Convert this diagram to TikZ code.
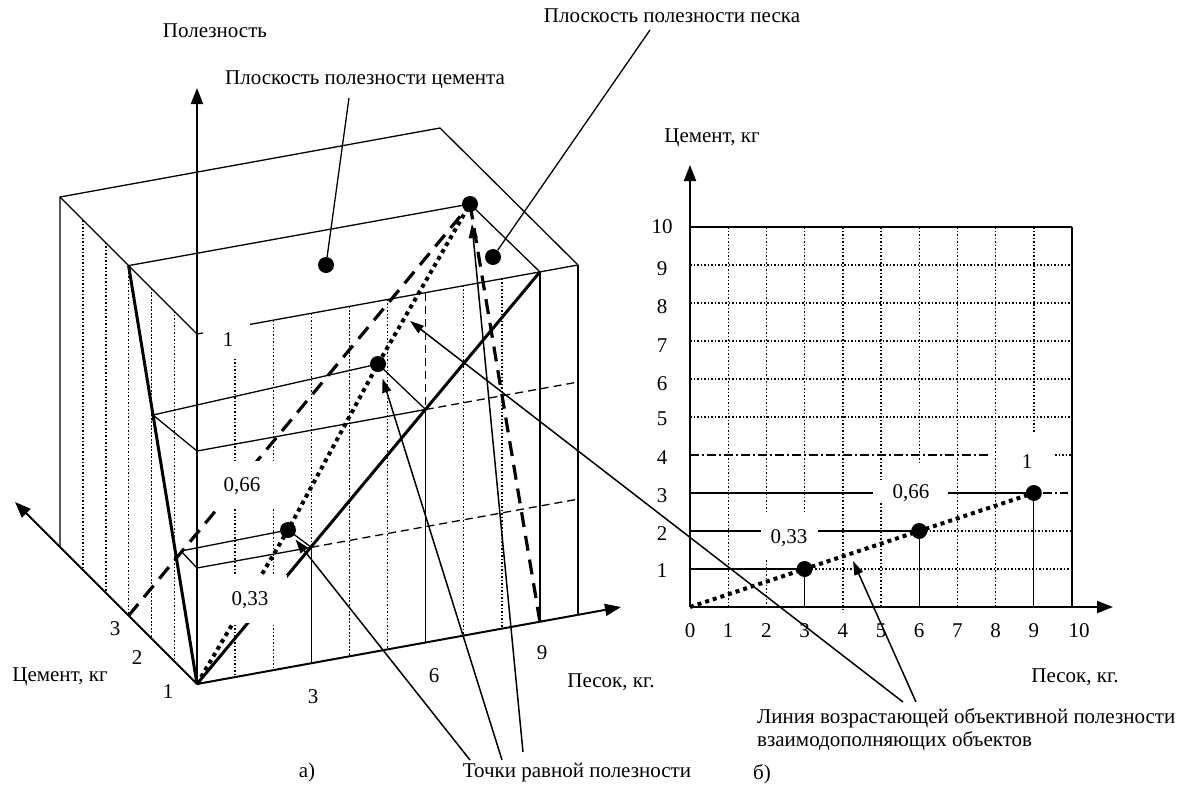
\documentclass[tikz,border=0pt]{standalone}
\usepackage{fontspec}
\setmainfont{Liberation Serif}
\usetikzlibrary{arrows.meta}
\begin{document}
\begin{tikzpicture}[x=1pt,y=-1pt,
  box/.style={line width=1.3pt},
  dotv/.style={line width=1.4pt, dash pattern=on 1.6pt off 1.9pt},
  dsh/.style={line width=1.3pt, dash pattern=on 8pt off 5pt},
  dashdot/.style={line width=1.3pt, dash pattern=on 9pt off 3pt on 2pt off 3pt},
  bold/.style={line width=3pt},
  bolddash/.style={line width=3.2pt, dash pattern=on 15pt off 9pt},
  bolddot/.style={line width=4pt, dash pattern=on 4pt off 4pt},
  axis/.style={line width=2pt, -{Triangle[length=16pt,width=12pt]}},
  ptr/.style={line width=1.5pt, -{Triangle[length=14pt,width=9pt]}},
  lbl/.style={font=\fontsize{21}{24}\selectfont, inner sep=0pt},
  dot/.style={circle, fill, inner sep=0pt, minimum size=16pt},
  mask/.style={fill=white, draw=none}
]
\useasboundingbox (0,0) rectangle (1192,790);

% ---------------- left diagram (a) ----------------
\coordinate (O) at (197,684);
\coordinate (Utip) at (197,88);
\coordinate (Ctip) at (15,502);
\coordinate (Stip) at (621,607);

% left face dotted verticals (cement 1..5)
\draw[dotv] (174.2,311.2) -- (174.2,661.2);
\draw[dotv] (151.4,288.4) -- (151.4,638.4);
\draw[dotv] (128.6,265.6) -- (128.6,615.6);
\draw[dotv] (105.8,242.8) -- (105.8,592.8);
\draw[dotv] (83,220) -- (83,570);

% front face dotted verticals
\draw[dotv] (235.1,327.1) -- (235.1,677.1);
\draw[dotv] (273.2,320.2) -- (273.2,670.2);
\draw[dotv] (311.3,313.3) -- (311.3,547.3);
\draw[box]  (311.3,547.3) -- (311.3,663.2);
\draw[dotv] (349.4,306.4) -- (349.4,656.3);
\draw[dotv] (387.5,299.5) -- (387.5,649.4);
\draw[dsh]  (425.6,292.6) -- (425.6,409.5);
\draw[box]  (425.6,409.5) -- (425.6,642.5);
\draw[dotv] (463.7,285.7) -- (463.7,635.6);
\draw[dotv] (501.8,278.8) -- (501.8,628.6);
\draw[box]  (539.9,271.9) -- (539.9,621.7);
\draw[box]  (578,265) -- (578,614.8);

% box outline
\draw[box] (60,547) -- (60,197) -- (440,128) -- (578,265);
\draw[box] (60,197) -- (197,334);
\draw[box] (197,334) -- (578,265);

% level 0.66
\draw[box] (153,415) -- (197,451) -- (425.6,409.5);
\draw[dsh] (425.6,409.5) -- (576,382.4);
\draw[box] (153,415) -- (378,364) -- (425.6,409.5);
% level 0.33
\draw[box] (181,551) -- (197,568) -- (311.3,547.3);
\draw[dsh] (311.3,547.3) -- (576,499.5);
\draw[box] (181,551) -- (288,530) -- (311.3,547.3);
% top level
\draw[box] (128.6,265.6) -- (470,204) -- (539.9,271.9);

% bold utility lines
\draw[bold] (O) -- (128.6,265.6);
\draw[bold] (O) -- (539.9,271.9);
\draw[bolddash] (128.6,615.6) -- (468,207);
\draw[bolddash] (539.9,621.7) -- (471,210);
\draw[bolddot] (O) -- (288,530) -- (378,364) -- (470,204);

% axes
\draw[axis] (O) -- (Utip);
\draw[axis] (O) -- (Ctip);
\draw[axis] (O) -- (Stip);

% label masks
\fill[mask] (203,318) rectangle (250,358);
\fill[mask] (205,461) rectangle (278,509);
\fill[mask] (230,575) rectangle (287,623);

\node[lbl] (l1) at (228,340) {1};
\node[lbl] (l066) at (242,486) {0,66};
\node[lbl] (l033) at (250,600) {0,33};

% dots
\node[dot] (d1) at (288,530) {};
\node[dot] (d2) at (378,364) {};
\node[dot] (d3) at (470,204) {};
\node[dot] (pcdot) at (326,265) {};
\node[dot] (psdot) at (493,257) {};

% texts
\node[lbl] (tU) at (215,31) {Полезность};
\node[lbl] (tPC) at (365,80) {Плоскость полезности цемента};
\node[lbl] (tPS) at (672,16) {Плоскость полезности песка};
\node[lbl] (tC) at (60,677) {Цемент, кг};
\node[lbl] (c1) at (168,692) {1};
\node[lbl] (c2) at (137,658) {2};
\node[lbl] (c3) at (115,629) {3};
\node[lbl] (s3) at (313,697) {3};
\node[lbl] (s6) at (434,676) {6};
\node[lbl] (s9) at (542,653) {9};
\node[lbl] (tS) at (611,682) {Песок, кг.};
\node[lbl] (ta) at (307,772) {а)};
\node[lbl] (tT) at (577,773) {Точки равной полезности};

\coordinate (pcs) at (349,98);
\coordinate (pss) at (650,30);
\draw[box] (pcs) -- (pcdot);
\draw[box] (pss) -- (psdot);

\coordinate (t1) at (470,760);
\coordinate (t2) at (502,760);
\coordinate (t3) at (523,752);
\draw[ptr, shorten >=4pt] (t1) -- (d1);
\draw[ptr, shorten >=7pt] (t2) -- (d2);
\draw[ptr, shorten >=12pt] (t3) -- (d3);

% ---------------- right diagram (b) ----------------
\coordinate (P0) at (690,607);
\coordinate (PY) at (690,165);
\coordinate (PX) at (1113,607);

\foreach \k in {5,...,9} \draw[dotv] (690,{607-38*\k}) -- (1072,{607-38*\k});
\draw[box] (690,569) -- (804.6,569);
\draw[dotv] (804.6,569) -- (1072,569);
\draw[box] (690,531) -- (761,531);
\draw[box] (818,531) -- (919.2,531);
\draw[dotv] (919.2,531) -- (1072,531);
\draw[box] (690,493) -- (873,493);
\draw[box] (948,493) -- (1033.8,493);
\draw[dashdot] (1043,493) -- (1068,493);
\draw[dashdot] (690,455) -- (989,455);
\draw[dotv] (1055,455) -- (1072,455);

\draw[dotv] (728.2,227) -- (728.2,607);
\draw[dotv] (766.4,227) -- (766.4,513);
\draw[dotv] (766.4,560) -- (766.4,607);
\draw[dotv] (804.6,227) -- (804.6,513);
\draw[box]  (804.6,569) -- (804.6,607);
\draw[dotv] (842.8,227) -- (842.8,612);
\draw[dotv] (881,227) -- (881,480);
\draw[dotv] (881,503) -- (881,607);
\draw[dotv] (919.2,227) -- (919.2,462);
\draw[box]  (919.2,531) -- (919.2,607);
\draw[dotv] (957.4,227) -- (957.4,607);
\draw[dotv] (995.6,227) -- (995.6,607);
\draw[dotv] (1033.8,227) -- (1033.8,432);
\draw[box]  (1033.8,493) -- (1033.8,607);

\draw[line width=2pt] (690,227) -- (1072,227);
\draw[line width=1.6pt] (1072,227) -- (1072,607);

\draw[bolddot] (P0) -- (1033.8,493);
\draw[axis] (P0) -- (PY);
\draw[axis] (P0) -- (PX);

\node[dot] (e1) at (804.6,569) {};
\node[dot] (e2) at (919.2,531) {};
\node[dot] (e3) at (1033.8,493) {};

\node[lbl] at (789,538) {0,33};
\node[lbl] at (911,493) {0,66};
\node[lbl] at (1027,462) {1};

\foreach \v/\y in {10/227,9/269,8/307,7/346,6/384,5/419,4/458,3/496,2/534,1/571}
  \node[lbl] at (662,\y) {\v};
\foreach \v in {0,...,9}
  \node[lbl] at ({690+38.2*\v},631) {\v};
\node[lbl] at (1079,631) {10};

\node[lbl] (tCR) at (712,138) {Цемент, кг};
\node[lbl] (tSR) at (1075,677) {Песок, кг.};
\node[lbl, anchor=west] (tL1) at (757,718) {Линия возрастающей объективной полезности};
\node[lbl, anchor=west] (tL2) at (757,741) {взаимодополняющих объектов};
\node[lbl] (tb) at (762,774) {б)};

\coordinate (L1) at (903,702);
\coordinate (L2) at (916,702);
\coordinate (A1) at (410,321);
\coordinate (A2) at (853,561);
\draw[ptr] (L1) -- (A1);
\draw[ptr] (L2) -- (A2);
\end{tikzpicture}
\end{document}
